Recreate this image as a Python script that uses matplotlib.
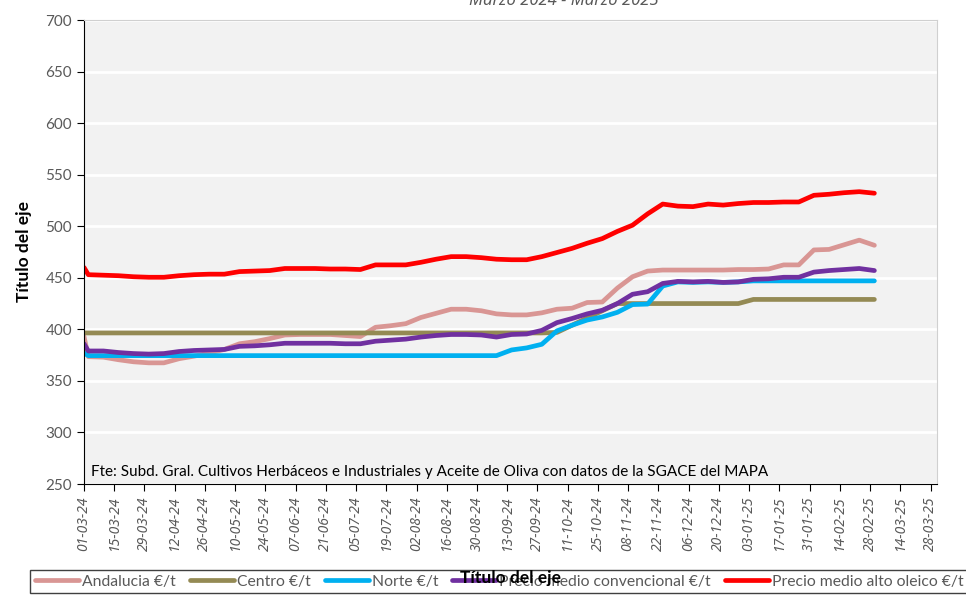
import datetime as dt
import numpy as np
import pandas as pd
import matplotlib as mpl
mpl.use('Agg')
import matplotlib.pyplot as plt
import matplotlib.dates as mdates
#==============================================================

# weekly dates: 01-03-24 then every sunday from 03-03-24
fechas = [dt.date(2024, 3, 1)] + [d.date() for d in pd.date_range('2024-03-03', periods=53, freq='7D')]

andalucia = [393, 373.5, 373, 370.5, 368.5, 367.5, 367.5, 371.5, 374, 377, 380.5,
             386, 388, 391, 394.5, 395, 395, 395, 394, 393, 402,
             403.5, 405.5, 411.5, 415.5, 419.5, 419.5, 418, 415, 414, 414,
             416, 419.5, 420.5, 426, 426.5, 440, 451, 456.5, 457.5, 457.5,
             457.5, 457.5, 457.5, 458, 458, 458.5, 462.5, 462.5, 477, 477.5,
             482, 486.5, 481.5]
centro = [396.5] * 32 + [397, 404, 411, 418, 425, 425, 425, 425, 425, 425,
                         425, 425, 425, 429, 429, 429, 429, 429, 429, 429,
                         429, 429]
norte = [377] + [374.5] * 28 + [380, 382, 385.5, 398.5, 404, 409, 412, 416.5,
                                 424, 424.5, 442, 446, 445.5, 446, 445.5, 446,
                                 447, 447, 447, 447, 447, 447, 447, 447, 447]
convencional = [386, 379, 379, 377.5, 376.5, 376, 376.5, 378.5, 379.5, 380, 380.5,
                383.5, 384, 385, 386.5, 386.5, 386.5, 386.5, 386, 386, 388.5,
                389.5, 390.5, 392.5, 394, 395, 395, 394.5, 392.5, 395, 395.5,
                399, 406.5, 410.5, 415, 418.5, 425, 434, 436.5, 444.5, 446.5,
                446, 446.5, 445.5, 446, 448.5, 449, 450.5, 450.5, 455.5, 457,
                458, 459, 457]
alto_oleico = [460, 453, 452.5, 452, 451, 450.5, 450.5, 452, 453, 453.5, 453.5,
               456, 456.5, 457, 459, 459, 459, 458.5, 458.5, 458, 462.5,
               462.5, 462.5, 465, 468, 470.5, 470.5, 469.5, 468, 467.5, 467.5,
               470.5, 474.5, 478.5, 483.5, 488, 495, 501, 512, 521.5, 519.5,
               519, 521.5, 520.5, 522, 523, 523, 523.5, 523.5, 530, 531,
               532.5, 533.5, 532]

series = [('Andalucia €/t', andalucia, '#d99694'),
          ('Centro €/t', centro, '#948a54'),
          ('Norte €/t', norte, '#00b0f0'),
          ('Precio medio convencional €/t', convencional, '#7030a0'),
          ('Precio medio alto oleico €/t', alto_oleico, '#ff0000')]

titulo = 'Marzo 2024 - Marzo 2025'
fuente = 'Fte: Subd. Gral. Cultivos Herbáceos e Industriales y Aceite de Oliva con datos de la SGACE del MAPA'
gris = '#595959'
itfam = ['Noto Sans', 'DejaVu Sans']


def plotPrecios():
    plt.rcParams['font.family'] = ['Lato', 'DejaVu Sans']
    fig = plt.figure(figsize=(9.66, 5.98), dpi=100)
    axs = fig.add_axes([84/966., 1-484/598., (937-84)/966., (484-20)/598.])
    axs.set_facecolor('#f2f2f2')

    for name, vals, col in series:
        axs.plot(fechas, vals, '-', color=col, lw=3.4, label=name,
                 solid_capstyle='round', solid_joinstyle='round')

    axs.set_ylim(250, 700)
    axs.set_yticks(np.arange(250, 701, 50))
    axs.set_xlim(dt.date(2024, 3, 1), dt.date(2025, 3, 31))
    xt = [d.date() for d in pd.date_range('2024-03-01', '2025-03-28', freq='14D')]
    axs.set_xticks(xt)
    axs.set_xticklabels([d.strftime('%d-%m-%y') for d in xt], rotation=90,
                        fontsize=10, color=gris, style='italic', family=itfam)

    axs.grid(axis='y', color='white', lw=2)
    axs.set_axisbelow(True)
    for sp in ['top', 'right']:
        axs.spines[sp].set_color('#d0d0d0')
    axs.spines['left'].set_color('black')
    axs.spines['bottom'].set_color('black')
    axs.tick_params(axis='y', labelsize=11, labelcolor=gris, length=5, direction='out')
    axs.tick_params(axis='x', length=5, direction='out', pad=4)

    axs.set_ylabel('Título del eje', fontsize=12.5, fontweight='bold', labelpad=10)
    fig.text(511/966., 1-578/598., 'Título del eje', fontsize=12.5, fontweight='bold',
             ha='center', va='center', zorder=20)
    fig.text(564/966., 1-1/598., titulo, fontsize=12, fontweight='bold', style='italic',
             family=itfam, color=gris, ha='center', va='center')
    fig.text(91/966., 1-472/598., fuente, fontsize=11, color='black',
             ha='left', va='center')

    lg = fig.legend(loc='upper left', bbox_to_anchor=(30/966., 1-570/598.), ncol=5,
                    fontsize=11.3, frameon=True, fancybox=False, edgecolor='#404040',
                    handlelength=2.8, handletextpad=0.2, columnspacing=0.9,
                    borderaxespad=0, borderpad=0.3, framealpha=1)
    lg.set_zorder(5)
    lg.get_frame().set_linewidth(1.0)
    for tx in lg.get_texts():
        tx.set_color(gris)

    plt.savefig('out.png', dpi=100)


def main():
    plotPrecios()


if __name__ == '__main__':
    main()
